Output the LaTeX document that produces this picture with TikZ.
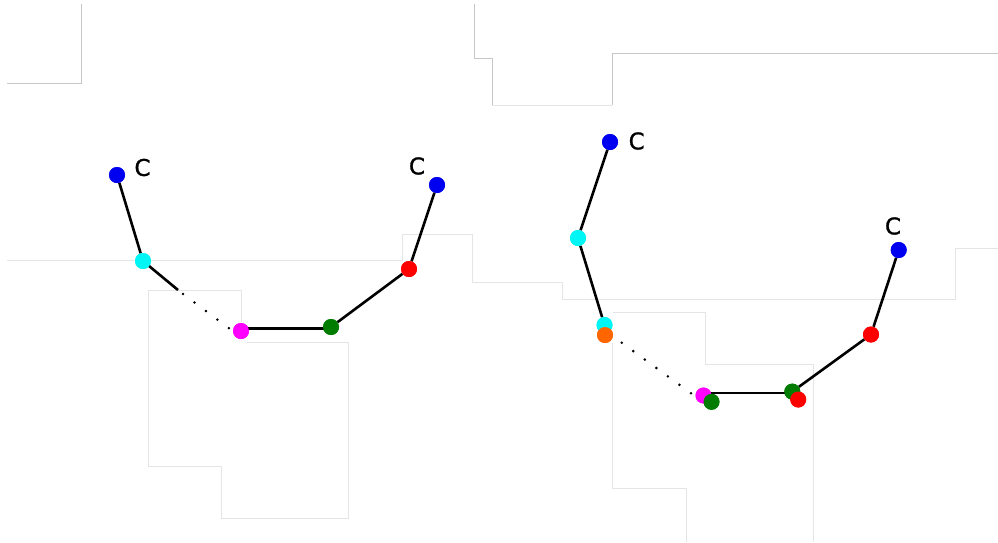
\documentclass[tikz,border=0pt]{standalone}
\usepackage{fontspec}
\setmainfont{DejaVu Sans}
\newfontfamily\clabelfont[FakeBold=1.2]{DejaVu Sans}
\begin{document}
\begin{tikzpicture}[x=1pt,y=-1pt,
  dotn/.style={circle,inner sep=0pt,minimum size=16pt,fill=#1},
  bond/.style={line width=2.6pt,black},
  dotline/.style={line width=2.8pt,line cap=round,dash pattern=on 0pt off 14.3pt,black},
  lbl/.style={font=\clabelfont\fontsize{23}{23}\selectfont,inner sep=0pt},
  frame/.style={line width=0.8pt,black!22},
  faint/.style={line width=0.8pt,black!10}]
\definecolor{cblue}{RGB}{0,0,240}
\definecolor{ccyan}{RGB}{0,245,245}
\definecolor{cmag}{RGB}{255,0,255}
\definecolor{cgreen}{RGB}{0,125,0}
\definecolor{cred}{RGB}{255,0,0}
\definecolor{corange}{RGB}{255,102,0}
\useasboundingbox (0,0) rectangle (998,542);
\fill[white] (0,0) rectangle (998,542);
% faint frame lines
\draw[frame] (81,4) -- (81,83) -- (7,83);
\draw[frame] (474,4) -- (474,58) -- (492,58) -- (492,105);
\draw[faint] (492,105) -- (612,105);
\draw[frame] (612,105) -- (612,53.5) -- (998,53.5);
\draw[faint] (7,260) -- (402,260) -- (402,234) -- (472,234) -- (472,282) -- (562,282) -- (562,299) -- (955,299) -- (955,248) -- (998,248);
\draw[faint] (241,322) -- (241,290) -- (148,290) -- (148,466) -- (221,466) -- (221,518) -- (348,518) -- (348,342) -- (247,342);
\draw[faint] (613,312) -- (705,312) -- (705,364) -- (813,364) -- (813,542);
\draw[faint] (612,343) -- (612,488) -- (686,488) -- (686,542);
% left panel
\node[dotn=cblue] (lb1) at (117,175) {};
\node[dotn=ccyan] (lc) at (143,261) {};
\node[dotn=cmag] (lm) at (241,331) {};
\node[dotn=cgreen] (lg) at (331,327) {};
\node[dotn=cred] (lr) at (409,269) {};
\node[dotn=cblue] (lb2) at (437,185) {};
\coordinate (lbreak) at (178,290);
\coordinate (ld1) at (183,294);
\coordinate (ld2) at (230,329);
\coordinate (lmh) at (241,328.5);
\coordinate (lgh) at (331,328.5);
\node[lbl] (lt1) at (142.5,167.5) {C};
\node[lbl] (lt2) at (417,166) {C};
% right panel
\node[dotn=cblue] (rb1) at (610,142) {};
\node[dotn=ccyan] (rc1) at (578,238) {};
\node[dotn=ccyan] (rc2) at (604.5,325) {};
\node[dotn=corange] (ro) at (605,335) {};
\node[dotn=cmag] (rm) at (703.5,395.5) {};
\node[dotn=cgreen] (rg1) at (711.5,401.8) {};
\node[dotn=cgreen] (rg2) at (792.3,391.6) {};
\node[dotn=cred] (rr2) at (798.2,399.5) {};
\node[dotn=cred] (rr) at (871,334.5) {};
\node[dotn=cblue] (rb2) at (898.7,250) {};
\coordinate (rd1) at (621.7,342.7);
\coordinate (rd2) at (692,394);
\coordinate (rmh) at (703.5,393);
\coordinate (rgh) at (792.3,393);
\node[lbl] (rt1) at (636.7,141) {C};
\node[lbl] (rt2) at (893,226) {C};
% connectors
\draw[bond] (lb1) -- (lc);
\draw[bond] (lc.center) -- (lbreak);
\draw[dotline] (ld1) -- (ld2);
\draw[bond] (lmh) -- (lgh);
\draw[bond] (lg) -- (lr);
\draw[bond] (lr) -- (lb2);
\draw[bond] (rb1) -- (rc1);
\draw[bond] (rc1) -- (rc2);
\draw[dotline] (rd1) -- (rd2);
\draw[bond] (rmh) -- (rgh);
\draw[bond] (rg2) -- (rr);
\draw[bond] (rr) -- (rb2);
% redraw dots over the connectors
\foreach \n/\c in {lb1/cblue,lc/ccyan,lm/cmag,lg/cgreen,lr/cred,lb2/cblue,rb1/cblue,rc1/ccyan,rc2/ccyan,ro/corange,rm/cmag,rg1/cgreen,rg2/cgreen,rr2/cred,rr/cred,rb2/cblue}
  \fill[\c] (\n.center) circle (8pt);
\end{tikzpicture}
\end{document}
